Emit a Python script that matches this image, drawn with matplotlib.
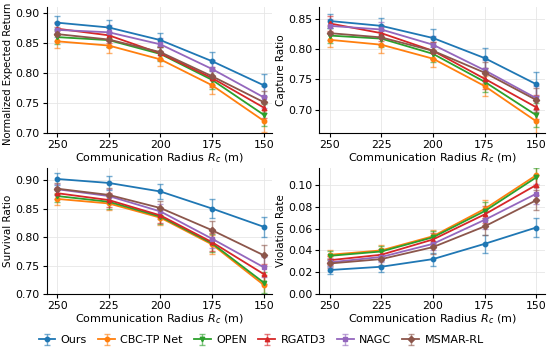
import matplotlib
matplotlib.use('Agg')
from matplotlib import pyplot as plt

radius = [250, 225, 200, 175, 150]
methods = ['Ours', 'CBC-TP Net', 'OPEN', 'RGATD3', 'NAGC', 'MSMAR-RL']
colors = ['#1f77b4', '#ff7f0e', '#2ca02c', '#d62728', '#9467bd', '#8c564b']
markers = ['o', 'o', 'v', '^', 's', 'D']

# normalized expected return
ret_ours = [0.884, 0.876, 0.855, 0.820, 0.780]
ret_cbc = [0.853, 0.846, 0.823, 0.780, 0.721]
ret_open = [0.860, 0.855, 0.832, 0.789, 0.731]
ret_rgatd3 = [0.874, 0.863, 0.833, 0.792, 0.743]
ret_nagc = [0.872, 0.868, 0.848, 0.807, 0.760]
ret_msmar = [0.865, 0.856, 0.835, 0.795, 0.752]
ret_err = [0.011, 0.012, 0.011, 0.015, 0.018]

# capture ratio
cap_ours = [0.846, 0.838, 0.818, 0.785, 0.742]
cap_cbc = [0.815, 0.807, 0.784, 0.739, 0.681]
cap_open = [0.822, 0.817, 0.792, 0.746, 0.691]
cap_rgatd3 = [0.842, 0.826, 0.797, 0.751, 0.704]
cap_nagc = [0.838, 0.832, 0.807, 0.765, 0.719]
cap_msmar = [0.826, 0.819, 0.797, 0.761, 0.716]
cap_err = [0.012, 0.013, 0.014, 0.017, 0.020]

# survival ratio
sur_ours = [0.902, 0.895, 0.880, 0.850, 0.818]
sur_cbc = [0.867, 0.859, 0.834, 0.787, 0.716]
sur_open = [0.872, 0.862, 0.836, 0.789, 0.720]
sur_rgatd3 = [0.877, 0.865, 0.838, 0.791, 0.735]
sur_nagc = [0.884, 0.872, 0.845, 0.797, 0.747]
sur_msmar = [0.885, 0.874, 0.851, 0.812, 0.768]
sur_err = [0.010, 0.012, 0.013, 0.016, 0.018]

# violation rate
vio_ours = [0.022, 0.025, 0.032, 0.046, 0.061]
vio_cbc = [0.036, 0.040, 0.053, 0.078, 0.109]
vio_open = [0.035, 0.039, 0.052, 0.076, 0.107]
vio_rgatd3 = [0.031, 0.036, 0.050, 0.073, 0.100]
vio_nagc = [0.029, 0.034, 0.046, 0.068, 0.092]
vio_msmar = [0.028, 0.032, 0.043, 0.062, 0.086]
vio_err = [0.004, 0.005, 0.006, 0.008, 0.009]

panels = [
    ('Normalized Expected Return', [ret_ours, ret_cbc, ret_open, ret_rgatd3, ret_nagc, ret_msmar], ret_err, (0.70, 0.91), [0.70, 0.75, 0.80, 0.85, 0.90]),
    ('Capture Ratio', [cap_ours, cap_cbc, cap_open, cap_rgatd3, cap_nagc, cap_msmar], cap_err, (0.661, 0.869), [0.70, 0.75, 0.80, 0.85]),
    ('Survival Ratio', [sur_ours, sur_cbc, sur_open, sur_rgatd3, sur_nagc, sur_msmar], sur_err, (0.70, 0.922), [0.70, 0.75, 0.80, 0.85, 0.90]),
    ('Violation Rate', [vio_ours, vio_cbc, vio_open, vio_rgatd3, vio_nagc, vio_msmar], vio_err, (0.0, 0.116), [0.00, 0.02, 0.04, 0.06, 0.08, 0.10]),
]

fs = 8
fig, axes = plt.subplots(2, 2, figsize=(5.5, 3.5), dpi=100)

for ax, (ylabel, series, err, ylim, yticks) in zip(axes.flat, panels):
    for name, vals, c, m in zip(methods, series, colors, markers):
        eb = ax.errorbar(radius, vals, yerr=err, color=c, marker=m, markersize=3.2,
                         linewidth=1.3, capsize=2, elinewidth=1, ecolor=c,
                         label=name)
        for part in list(eb[1]) + list(eb[2]):
            part.set_alpha(0.6)
    ax.set_xlim(255, 146)
    ax.set_xticks(radius)
    ax.set_ylim(*ylim)
    ax.set_yticks(yticks)
    ax.yaxis.set_major_formatter(matplotlib.ticker.FormatStrFormatter('%.2f'))
    ax.set_ylabel(ylabel, fontsize=7.5, labelpad=1.5)
    ax.set_xlabel('Communication Radius $R_c$ (m)', fontsize=fs, labelpad=1)
    ax.tick_params(labelsize=7.8, length=3, pad=2)
    ax.grid(True, color='#e6e6e6', linewidth=0.6)
    ax.spines['top'].set_visible(False)
    ax.spines['right'].set_visible(False)

# the long label needs a little room at the top
axes[0, 0].yaxis.label.set_fontsize(7.2)
axes[0, 0].yaxis.set_label_coords(-0.148, 0.47)

handles, labels = axes[0, 0].get_legend_handles_labels()
fig.legend(handles, labels, loc='lower center', ncol=6, frameon=False,
           fontsize=fs, handlelength=1.5, columnspacing=1.0, handletextpad=0.5,
           bbox_to_anchor=(0.475, -0.015))

fig.subplots_adjust(left=0.085, right=0.99, top=0.98, bottom=0.16, wspace=0.21, hspace=0.27)
fig.savefig('out.png', dpi=100)
